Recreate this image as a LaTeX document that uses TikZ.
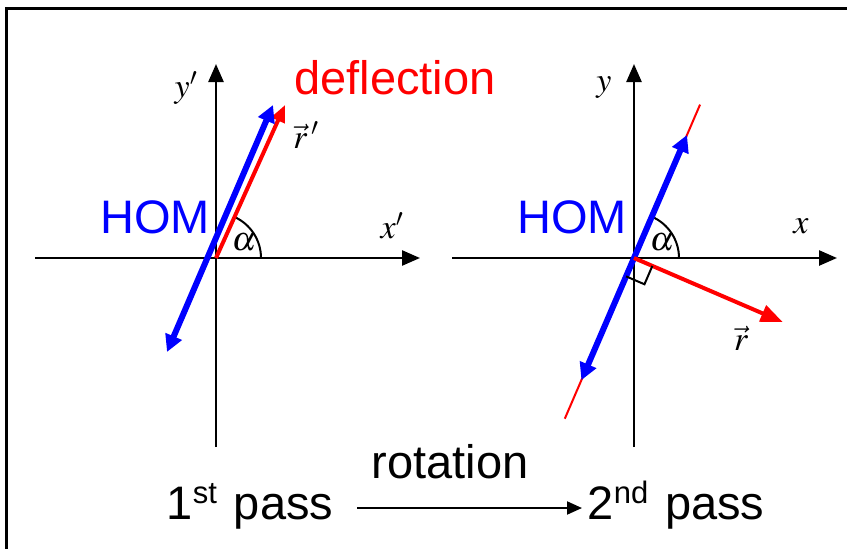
\documentclass[tikz,border=0pt]{standalone}
\usepackage{mathptmx}
\usepackage{fontspec}
\setmainfont{Liberation Sans}
\usetikzlibrary{arrows.meta,positioning,calc}

\tikzset{
  axis/.style={line width=2.5pt,-{Triangle[length=18pt,width=15pt]}},
  hom/.style={blue,line width=6pt,{Triangle[length=17pt,width=17pt]}-{Triangle[length=17pt,width=17pt]}},
  defl/.style={red,line width=4pt,-{Triangle[length=17pt,width=14pt]}},
  big/.style={font=\fontsize{47}{52}\selectfont},
  lab/.style={font=\fontsize{34}{38}\selectfont},
}
\newcommand{\supbig}[1]{\raisebox{0.33em}{\fontsize{31}{33}\selectfont #1}\hspace{0.08em}}

\begin{document}
\begin{tikzpicture}[x=1pt,y=-1pt]
  \useasboundingbox (0,0) rectangle (847,549);
  \draw[line width=3pt] (6,560) -- (6,8) -- (860,8);

  % 1st pass frame
  \coordinate (O1) at (216,258);
  \coordinate (Xl) at (35,258);  \coordinate (Xr) at (420,258);
  \coordinate (Yb) at (216,447); \coordinate (Yt) at (216,64);
  \draw[axis] (Xl) -- (Xr); \draw[axis] (Yb) -- (Yt);
  \draw[line width=2pt] ($(O1)+(45,0)$) arc[start angle=0,end angle=-66,radius=45];
  \coordinate (H1a) at (167,352); \coordinate (H1b) at (273,105);
  \coordinate (R1) at (285,105);
  \draw[defl] (O1) -- (R1);
  \draw[hom] (H1a) -- (H1b);
  \node[lab] (yp) at (186,88) {$y'$};
  \node[lab] (xp) at (392,226) {$x'$};
  \node[lab] (rp) at (306,135) {$\vec{r}\,'$};
  \node[lab] (a1) at (244,242) {$\alpha$};
  \node[big,red] (defltext) at (395,78) {deflection};
  \node[big,blue] (hom1) at (155,217) {HOM};

  % 2nd pass frame
  \coordinate (O2) at (634,258);
  \coordinate (Xl2) at (452,258); \coordinate (Xr2) at (837,258);
  \coordinate (Yb2) at (634,447); \coordinate (Yt2) at (634,64);
  \draw[axis] (Xl2) -- (Xr2); \draw[axis] (Yb2) -- (Yt2);
  \draw[line width=2pt] ($(O2)+(45,0)$) arc[start angle=0,end angle=-66.7,radius=45];
  \coordinate (L2a) at ($(O2)+(113.3:175)$); \coordinate (L2b) at ($(O2)+(-66.7:167)$);
  \draw[red,line width=2pt] (L2a) -- (L2b);
  \coordinate (H2a) at ($(O2)+(113.3:133)$); \coordinate (H2b) at ($(O2)+(-66.7:134)$);
  \draw[hom] (H2a) -- (H2b);
  \coordinate (R2) at ($(O2)+(23.3:162)$);
  \draw[red,line width=4pt,-{Triangle[length=22pt,width=17pt]}] (O2) -- (R2);
  \coordinate (Qa) at ($(O2)+(23.3:20)$); \coordinate (Qb) at ($(O2)+(113.3:20)$);
  \draw[line width=2pt] (Qa) -- ($(Qa)+(113.3:20)$) -- (Qb);
  \node[lab] (yy) at (604,88) {$y$};
  \node[lab] (xx) at (801,226) {$x$};
  \node[lab] (rr) at (741,338) {$\vec{r}$};
  \node[lab] (a2) at (662,242) {$\alpha$};
  \node[big,blue] (hom2) at (572,217) {HOM};

  % rotation
  \node[big,anchor=base] (first) at (250,519) {1\supbig{st} pass};
  \node[big,anchor=base] (second) at (676,519) {2\supbig{nd} pass};
  \node[big,anchor=base] (rot) at (450,478) {rotation};
  \coordinate (A1) at (357,508); \coordinate (A2) at (582,508);
  \draw[line width=2pt,-{Triangle[length=15pt,width=13pt]}] (A1) -- (A2);
\end{tikzpicture}
\end{document}
